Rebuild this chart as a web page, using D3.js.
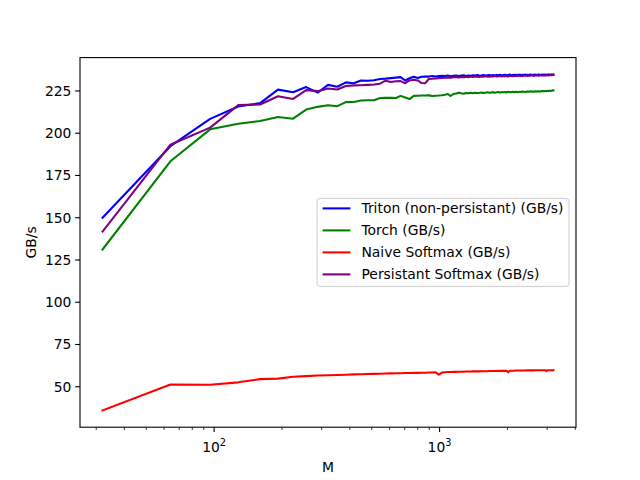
<!DOCTYPE html>
<html lang="en">
<head>
  <meta charset="UTF-8">
  <script src="https://d3js.org/d3.v7.min.js"></script>
  <title>Softmax bandwidth</title>
  <style>
    body { margin: 0; background: white; }
    text { font-family: "DejaVu Sans", sans-serif; fill: black; }
  </style>
</head>
<body>
<div id="chart"></div>
<script>
  // x values: M
  const M = [
    32, 64, 96, 128, 160, 192, 224, 256, 288, 320,
    352, 384, 416, 448, 480, 512, 544, 576, 608, 640,
    672, 704, 736, 768, 800, 832, 864, 896, 928, 960,
    992, 1024, 1056, 1088, 1120, 1152, 1184, 1216, 1248, 1280,
    1312, 1344, 1376, 1408, 1440, 1472, 1504, 1536, 1568, 1600,
    1632, 1664, 1696, 1728, 1760, 1792, 1824, 1856, 1888, 1920,
    1952, 1984, 2016, 2048, 2080, 2112, 2144, 2176, 2208, 2240,
    2272, 2304, 2336, 2368, 2400, 2432, 2464, 2496, 2528, 2560,
    2592, 2624, 2656, 2688, 2720, 2752, 2784, 2816, 2848, 2880,
    2912, 2944, 2976, 3008, 3040, 3072, 3104, 3136, 3168, 3200
  ];

  const triton = [
    150.0, 192.3, 208.5, 215.8, 217.8, 225.8, 224.2, 227.3, 224.0, 228.6,
    227.5, 230.1, 229.6, 231.2, 231.0, 231.3, 232.1, 232.3, 232.6, 232.9,
    233.2, 231.2, 232.5, 233.4, 232.7, 233.4, 233.6, 233.5, 233.9, 233.6,
    233.9, 234.0, 233.8, 234.1, 233.7, 234.0, 234.2, 233.9, 234.1, 234.3,
    233.9, 234.2, 234.0, 234.3, 234.1, 234.4, 234.0, 234.2, 234.4, 234.1,
    234.3, 234.5, 234.2, 234.4, 234.1, 234.5, 234.3, 234.6, 234.2, 234.4,
    234.6, 234.3, 234.5, 234.7, 234.3, 234.5, 234.4, 234.6, 234.3, 234.7,
    234.5, 234.4, 234.6, 234.5, 234.7, 234.4, 234.6, 234.5, 234.8, 234.5,
    234.6, 234.4, 234.7, 234.6, 234.5, 234.8, 234.6, 234.5, 234.7, 234.6,
    234.8, 234.5, 234.7, 234.6, 234.8, 234.7, 234.6, 234.8, 234.7, 234.8
  ];

  const torch = [
    131.2, 183.4, 202.3, 205.6, 207.2, 209.6, 208.6, 214.0, 215.6, 216.6,
    216.0, 218.4, 218.5, 219.4, 219.5, 219.5, 220.8, 220.9, 220.9, 220.8,
    222.1, 221.1, 220.2, 222.1, 222.2, 222.3, 222.3, 222.4, 222.0, 222.2,
    222.3, 222.5, 222.8, 223.2, 222.0, 223.2, 223.5, 224.0, 223.6, 223.4,
    223.8, 223.6, 223.9, 223.7, 224.0, 223.8, 223.9, 224.1, 223.8, 224.0,
    224.2, 223.9, 224.1, 224.3, 224.0, 224.2, 224.4, 224.1, 224.3, 224.2,
    224.4, 224.1, 224.5, 224.3, 224.2, 224.5, 224.3, 224.6, 224.4, 224.3,
    224.6, 224.4, 224.7, 224.5, 224.4, 224.7, 224.6, 224.5, 224.8, 224.6,
    224.7, 224.5, 224.8, 224.6, 224.9, 224.7, 224.6, 224.9, 224.8, 225.0,
    224.8, 225.0, 224.9, 225.1, 224.9, 225.2, 225.0, 225.1, 225.4, 225.3
  ];

  const naive = [
    36.0, 51.3, 51.2, 52.6, 54.5, 54.8, 55.9, 56.3, 56.6, 56.8,
    56.9, 57.1, 57.3, 57.4, 57.5, 57.6, 57.7, 57.8, 57.9, 58.0,
    58.0, 58.1, 58.1, 58.2, 58.2, 58.3, 58.3, 58.4, 58.4, 58.5,
    57.2, 58.4, 58.6, 58.7, 58.7, 58.8, 58.8, 58.9, 58.9, 58.9,
    59.0, 59.0, 59.0, 59.1, 59.1, 59.1, 59.1, 59.2, 59.2, 59.2,
    59.2, 59.3, 59.3, 59.3, 59.3, 59.3, 59.4, 59.4, 59.4, 59.4,
    59.4, 59.5, 58.5, 59.5, 59.5, 59.5, 59.5, 59.6, 59.6, 59.6,
    59.6, 59.6, 59.6, 59.6, 59.6, 59.7, 59.7, 59.7, 59.7, 59.7,
    59.7, 59.7, 59.7, 59.8, 59.8, 59.8, 59.8, 59.8, 59.8, 59.8,
    59.8, 59.8, 59.2, 59.8, 59.8, 59.8, 59.8, 59.7, 59.6, 59.8
  ];

  const persistent = [
    141.8, 193.2, 203.3, 216.6, 217.0, 221.9, 220.3, 225.5, 224.9, 226.5,
    225.9, 227.9, 228.3, 228.4, 228.6, 228.8, 229.3, 231.1, 230.3, 230.7,
    230.8, 229.6, 231.2, 231.6, 231.2, 229.7, 229.6, 232.1, 232.2, 232.4,
    232.6, 232.7, 232.9, 233.0, 232.8, 233.1, 233.2, 233.0, 233.3, 233.2,
    233.4, 233.1, 233.5, 233.3, 233.6, 233.4, 233.3, 233.6, 233.5, 233.7,
    233.5, 233.4, 233.7, 233.6, 233.8, 233.5, 233.7, 233.9, 233.6, 233.8,
    233.7, 233.9, 233.6, 234.0, 233.8, 233.7, 234.0, 233.9, 233.8, 234.1,
    233.9, 234.0, 233.8, 234.1, 234.0, 234.2, 233.9, 234.1, 234.0, 234.2,
    234.1, 233.9, 234.2, 234.1, 234.3, 234.0, 234.2, 234.1, 234.3, 234.2,
    234.1, 234.3, 234.2, 234.4, 234.2, 234.3, 234.4, 234.3, 234.4, 234.4
  ];

  const seriesNames = ["Triton (non-persistant) (GB/s)", "Torch (GB/s)", "Naive Softmax (GB/s)", "Persistant Softmax (GB/s)"];
  const seriesColors = ["blue", "green", "red", "purple"];
  const seriesValues = [triton, torch, naive, persistent];
  const yTicks = [50, 75, 100, 125, 150, 175, 200, 225];

  const width = 640, height = 480;
  const plotL = 80, plotR = 576, plotT = 57.6, plotB = 427.2;
  const fs = 13.89;   // 10pt at 100 dpi

  const svg = d3.select("#chart").append("svg")
    .attr("width", width).attr("height", height);

  // matplotlib style 5% margins (log space for x)
  const lx0 = Math.log10(d3.min(M)), lx1 = Math.log10(d3.max(M));
  const lpad = (lx1 - lx0) * 0.05;
  const x = d3.scaleLog()
    .domain([Math.pow(10, lx0 - lpad), Math.pow(10, lx1 + lpad)])
    .range([plotL, plotR]);

  const allY = seriesValues.flat();
  const y0 = d3.min(allY), y1 = d3.max(allY);
  const ypad = (y1 - y0) * 0.05;
  const y = d3.scaleLinear().domain([y0 - ypad, y1 + ypad]).range([plotB, plotT]);

  // lines
  const line = d3.line().x((d, i) => x(M[i])).y(d => y(d));
  seriesValues.forEach((vals, k) => {
    svg.append("path")
      .datum(vals)
      .attr("d", line)
      .attr("fill", "none")
      .attr("stroke", seriesColors[k])
      .attr("stroke-width", 2.08)
      .attr("stroke-linejoin", "round")
      .attr("stroke-linecap", "square");
  });

  // y axis
  const yAxis = svg.append("g");
  yTicks.forEach(t => {
    yAxis.append("line")
      .attr("x1", plotL - 4.86).attr("x2", plotL)
      .attr("y1", y(t)).attr("y2", y(t))
      .attr("stroke", "black").attr("stroke-width", 1.1);
    yAxis.append("text")
      .attr("x", plotL - 8.6).attr("y", y(t))
      .attr("dy", "0.36em")
      .attr("text-anchor", "end")
      .style("font-size", fs + "px")
      .text(t);
  });

  // x axis: major at powers of ten, minor for the rest
  const xAxis = svg.append("g");
  const dom = x.domain();
  x.ticks().filter(t => t >= dom[0] && t <= dom[1]).forEach(t => {
    const major = Math.abs(Math.log10(t) - Math.round(Math.log10(t))) < 1e-9;
    xAxis.append("line")
      .attr("x1", x(t)).attr("x2", x(t))
      .attr("y1", plotB).attr("y2", plotB + (major ? 4.86 : 2.78))
      .attr("stroke", "black").attr("stroke-width", major ? 1.1 : 0.8);
    if (major) {
      const lab = xAxis.append("text")
        .attr("x", x(t)).attr("y", plotB + 24.5)
        .attr("text-anchor", "middle")
        .style("font-size", fs + "px");
      lab.append("tspan").text("10");
      lab.append("tspan")
        .attr("dy", -5.8)
        .style("font-size", "9.8px")
        .text(Math.round(Math.log10(t)));
    }
  });

  // frame
  svg.append("rect")
    .attr("x", plotL).attr("y", plotT)
    .attr("width", plotR - plotL).attr("height", plotB - plotT)
    .attr("fill", "none").attr("stroke", "black").attr("stroke-width", 1.1);

  // axis labels
  svg.append("text")
    .attr("x", (plotL + plotR) / 2).attr("y", 472)
    .attr("text-anchor", "middle")
    .style("font-size", fs + "px")
    .text("M");
  svg.append("text")
    .attr("transform", `translate(36,${(plotT + plotB) / 2}) rotate(-90)`)
    .attr("text-anchor", "middle")
    .style("font-size", fs + "px")
    .text("GB/s");

  // legend, center right
  const leg = svg.append("g");
  const tmp = leg.selectAll("text.tmp").data(seriesNames).enter().append("text")
    .style("font-size", fs + "px").text(d => d);
  const maxW = d3.max(tmp.nodes(), n => n.getComputedTextLength());
  tmp.remove();
  const pad = 0.4 * fs, handle = 2 * fs, hpad = 0.8 * fs, rowH = 22;
  const legW = pad * 2 + handle + hpad + maxW;
  const legH = 88;
  const legX = plotR - 0.5 * fs - legW;
  const legY = (plotT + plotB) / 2 - legH / 2;
  leg.append("rect")
    .attr("x", legX).attr("y", legY)
    .attr("width", legW).attr("height", legH)
    .attr("rx", 3)
    .attr("fill", "white").attr("fill-opacity", 0.8)
    .attr("stroke", "#cccccc").attr("stroke-width", 1);
  seriesNames.forEach((name, k) => {
    const ry = legY + 10 + k * rowH;
    leg.append("line")
      .attr("x1", legX + pad).attr("x2", legX + pad + handle)
      .attr("y1", ry).attr("y2", ry)
      .attr("stroke", seriesColors[k]).attr("stroke-width", 2.08);
    leg.append("text")
      .attr("x", legX + pad + handle + hpad).attr("y", ry)
      .attr("dy", "0.36em")
      .style("font-size", fs + "px")
      .text(name);
  });
</script>
</body>
</html>
